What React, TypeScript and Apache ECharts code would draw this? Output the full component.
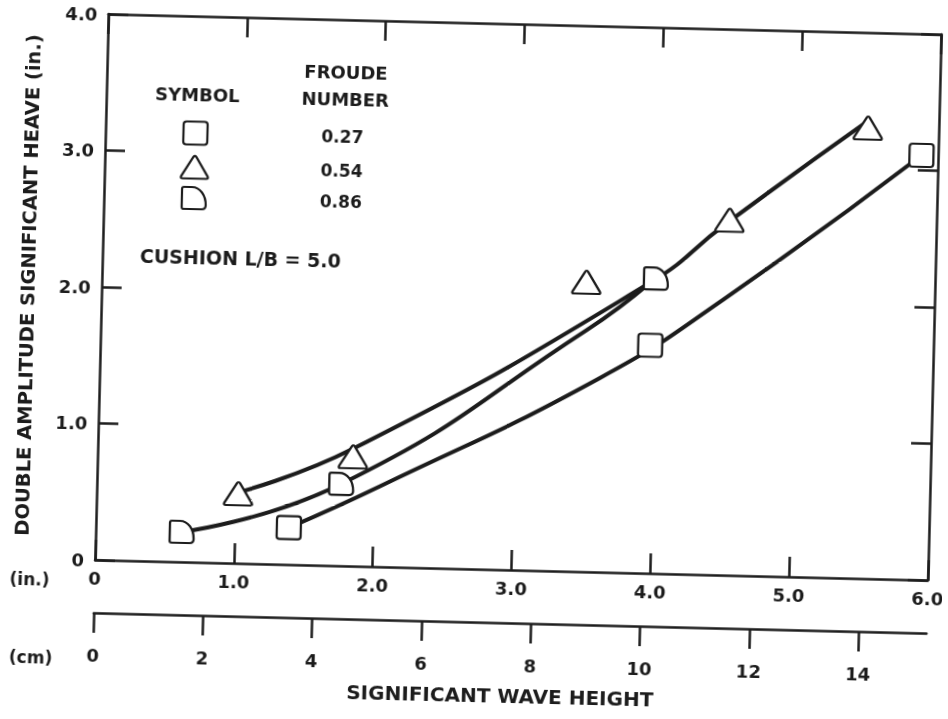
import React, { useEffect, useRef } from "react";
import * as echarts from "echarts";

// ---------- data ----------
const inTicks = [0, 1, 2, 3, 4, 5, 6];
const yTicks = [0, 1, 2, 3, 4];
const cmTicks = [0, 2, 4, 6, 8, 10, 12, 14];
const inMax = 6;
const yMax = 4;
const cmPerInch = 2.54;

const froudeNumbers = ["0.27", "0.54", "0.86"];

// marker positions [wave height (in.), heave (in.)]
const squarePoints = [[1.39, 0.27], [3.96, 1.67], [5.88, 3.11]];
const trianglePoints = [[1.02, 0.51], [1.84, 0.8], [3.49, 2.12], [4.51, 2.6], [5.49, 3.3]];
const dPoints = [[0.62, 0.22], [1.76, 0.6], [3.99, 2.16]];

// faired curves as traced on the reference
const squareCurve = [[1.39, 0.27], [2.04, 0.59], [3.6, 1.42], [4.48, 2.02], [5.88, 3.11]];
const triangleCurve = [[1.02, 0.52], [1.84, 0.86], [3.95, 2.13], [4.48, 2.57], [5.46, 3.33]];
const dCurve = [[0.62, 0.22], [1.76, 0.6], [3.5, 1.77], [3.95, 2.13]];

// ---------- styling ----------
const ink = "#1c1c1c";
const font = "DejaVu Sans";
const fmt = (v: number) => (v === 0 ? "0" : v.toFixed(1));

const squarePath = "M3,0 L21,0 Q24,0 24,3 L24,20 Q24,23 21,23 L3,23 Q0,23 0,20 L0,3 Q0,0 3,0 Z";
const trianglePath = "M12.6,1.2 Q14,-0.6 15.4,1.2 L27.2,20.6 Q28.4,23 25.8,23 L2.2,23 Q-0.4,23 0.8,20.6 Z";
const dPath = "M2,0 L10,0 C18,0 24,8 24,18 Q24,22 20,22 L2,22 Q0,22 0,20 L0,2 Q0,0 2,0 Z";

echarts.graphic.registerShape("dmark", echarts.graphic.extendPath(dPath, {}));
echarts.graphic.registerShape("trimark", echarts.graphic.extendPath(trianglePath, {}));
echarts.graphic.registerShape("sqmark", echarts.graphic.extendPath(squarePath, {}));

const axisLine = { show: true, onZero: false, lineStyle: { color: ink, width: 2.5 } };
const tickIn = { show: true, inside: true, length: 20, lineStyle: { color: ink, width: 2.5 } };
const labelStyle = { fontFamily: font, fontWeight: "bold" as const, fontSize: 18, color: ink };

const markerStyle = { color: "#ffffff", borderColor: ink, borderWidth: 2.2, opacity: 1 };

function textEl(text: string, x: number, y: number, size: number) {
  return {
    type: "text",
    x,
    y,
    style: {
      text,
      align: "center",
      verticalAlign: "middle",
      fontFamily: font,
      fontWeight: "bold",
      fontSize: size,
      fill: ink,
    },
  };
}

export default function App() {
  const ref = useRef<HTMLDivElement | null>(null);

  useEffect(() => {
    if (!ref.current) return;
    const chart = echarts.init(ref.current, undefined, { renderer: "svg" });

    const legendRows = [
      { shape: "sqmark", y: 140, w: 24, h: 23 },
      { shape: "trimark", y: 174, w: 28, h: 23 },
      { shape: "dmark", y: 205, w: 24, h: 22 },
    ];

    const curveSeries = (name: string, data: number[][]) => ({
      name,
      type: "line",
      data,
      smooth: 0.5,
      showSymbol: false,
      symbol: "none",
      lineStyle: { color: ink, width: 4, cap: "round", join: "round" },
      z: 2,
    });

    const option: any = {
      animation: false,
      backgroundColor: "#ffffff",
      grid: { left: 100, top: 23, width: 833, height: 546, containLabel: false, outerBoundsMode: "none" },
      xAxis: [
        {
          type: "value",
          position: "bottom",
          min: 0,
          max: inMax,
          interval: 1,
          axisLine,
          axisTick: { ...tickIn, customValues: inTicks },
          axisLabel: { ...labelStyle, margin: 9, formatter: fmt, showMinLabel: true, showMaxLabel: true, customValues: inTicks },
          splitLine: { show: false },
        },
        {
          type: "value",
          position: "top",
          min: 0,
          max: inMax,
          interval: 1,
          axisLine,
          axisTick: { ...tickIn, customValues: inTicks },
          axisLabel: { show: false },
          splitLine: { show: false },
        },
        {
          type: "value",
          position: "bottom",
          offset: 53,
          min: 0,
          max: inMax * cmPerInch,
          axisLine,
          axisTick: { show: true, inside: false, length: 20, lineStyle: { color: ink, width: 2.5 }, customValues: cmTicks },
          axisLabel: { ...labelStyle, margin: 33, formatter: (v: number) => String(v), customValues: cmTicks },
          splitLine: { show: false },
          name: "SIGNIFICANT WAVE HEIGHT",
          nameLocation: "middle",
          nameGap: 63,
          nameTextStyle: { fontFamily: font, fontWeight: "bold", fontSize: 20, color: ink, padding: [0, 17, 0, 0] },
        },
      ],
      yAxis: [
        {
          type: "value",
          position: "left",
          min: 0,
          max: yMax,
          interval: 1,
          axisLine,
          axisTick: { ...tickIn, customValues: yTicks },
          axisLabel: { ...labelStyle, margin: 11, formatter: fmt, showMinLabel: true, showMaxLabel: true, customValues: yTicks },
          splitLine: { show: false },
          name: "DOUBLE AMPLITUDE SIGNIFICANT HEAVE (in.)",
          nameLocation: "middle",
          nameRotate: 90,
          nameGap: 64,
          nameTextStyle: { fontFamily: font, fontWeight: "bold", fontSize: 19.5, color: ink },
        },
        {
          type: "value",
          position: "right",
          min: 0,
          max: yMax,
          interval: 1,
          axisLine,
          axisTick: { ...tickIn, customValues: yTicks },
          axisLabel: { show: false },
          splitLine: { show: false },
        },
      ],
      series: [
        curveSeries("curve 0.27", squareCurve),
        curveSeries("curve 0.54", triangleCurve),
        curveSeries("curve 0.86", dCurve),
        { name: froudeNumbers[0], type: "scatter", data: squarePoints, symbol: "path://" + squarePath, symbolSize: [24, 23], itemStyle: markerStyle, z: 5 },
        { name: froudeNumbers[1], type: "scatter", data: trianglePoints, symbol: "path://" + trianglePath, symbolSize: [28, 23], itemStyle: markerStyle, z: 5 },
        { name: froudeNumbers[2], type: "scatter", data: dPoints, symbol: "path://" + dPath, symbolSize: [24, 22], itemStyle: markerStyle, z: 5 },
      ],
      graphic: [
        textEl("SYMBOL", 191, 101, 18),
        textEl("FROUDE", 339, 75, 18),
        textEl("NUMBER", 339, 102, 18),
        ...froudeNumbers.map((f, i) => textEl(f, 337, legendRows[i].y, 17)),
        ...legendRows.map((r) => ({
          type: r.shape,
          x: 190 - r.w / 2,
          y: r.y - r.h / 2,
          style: { fill: "#ffffff", stroke: ink, lineWidth: 2.2 },
        })),
        textEl("CUSHION L/B = 5.0", 238, 264, 19),
        textEl("(in.)", 35, 590, 17),
        textEl("(cm)", 38, 668, 17),
      ],
    };

    chart.setOption(option);
    return () => chart.dispose();
  }, []);

  return (
    <div
      ref={ref}
      style={{
        position: "fixed",
        left: 0,
        top: 0,
        width: 948,
        height: 719,
        transform: "rotate(1.4deg)",
        transformOrigin: "474px 360px",
      }}
    />
  );
}
